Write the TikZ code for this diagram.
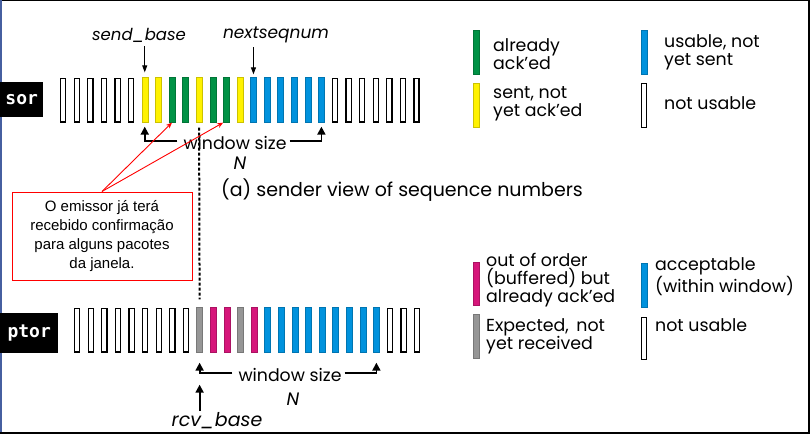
\documentclass[tikz,border=0pt]{standalone}
\usepackage{fontspec}
\setmainfont{Poppins}
\newfontfamily\monob{DejaVu Sans Mono}[BoldFont={* Bold}]
\newfontfamily\notefont{Liberation Sans}
\usetikzlibrary{arrows.meta}
\definecolor{cgreen}{RGB}{0,146,69}
\definecolor{cyellow}{RGB}{255,242,0}
\definecolor{cblue}{RGB}{0,146,221}
\definecolor{cmag}{RGB}{214,22,122}
\definecolor{cgray}{RGB}{150,150,150}
\definecolor{cframe}{RGB}{70,95,160}
\tikzset{
  barbase/.style={rectangle,inner sep=0pt,minimum width=6pt,minimum height=45pt},
  barw/.style={barbase,draw=black,line width=1.3pt,fill=white,minimum width=5.2pt,minimum height=43.7pt},
  bary/.style={barbase,fill=cyellow,draw=cyellow!80!black,line width=0.3pt},
  barg/.style={barbase,fill=cgreen,draw=cgreen!80!black,line width=0.3pt},
  barb/.style={barbase,fill=cblue,draw=cblue!80!black,line width=0.3pt},
  barm/.style={barbase,fill=cmag,draw=cmag!80!black,line width=0.3pt},
  bark/.style={barbase,fill=cgray,draw=cgray!80!black,line width=0.3pt},
  txt/.style={inner sep=0pt,font=\fontsize{17.3}{18}\selectfont},
  legtxt/.style={inner sep=0pt,anchor=west,align=left,font=\fontsize{17.4}{18}\selectfont},
  ital/.style={inner sep=0pt,font=\fontsize{17}{18}\selectfont\itshape},
  ptr/.style={line width=0.9pt,-{Triangle[length=7pt,width=5pt]}},
  brk/.style={line width=1.8pt,-{Triangle[length=8pt,width=8pt]}},
  redarr/.style={red,line width=0.9pt,-{Stealth[length=6pt,width=5pt]}},
  lblbox/.style={fill=black,text=white,inner sep=0pt,anchor=north west,font=\monob\bfseries\fontsize{18}{20}\selectfont},
  note/.style={draw=red,line width=1pt,fill=white,inner sep=0pt,minimum width=180pt,minimum height=88pt,align=center,font=\notefont\fontsize{15}{19}\selectfont},
}
\begin{document}
\begin{tikzpicture}[x=1pt,y=-1pt]
\useasboundingbox (0,0) rectangle (810,434);
\fill[white] (0,0) rectangle (810,434);
% frame
\draw[black,line width=1pt] (0,0.5) -- (810,0.5);
\draw[cframe,line width=2pt] (1,0) -- (1,434);
\draw[black,line width=2pt] (809,0) -- (809,434);
\draw[black,line width=2pt] (0,433) -- (810,433);

% side labels
\node[lblbox,minimum width=43pt,minimum height=35pt] (slbl) at (0,82) {sor};
\node[lblbox,minimum width=58pt,minimum height=40pt] (rlbl) at (0,313) {ptor\hspace{11pt}};

% sender bars
\foreach \c [count=\i from 0] in {w,w,w,w,w,w,y,y,g,g,y,g,g,y,b,b,b,b,b,b,w,w,w,w,w,w,w}
  \node[bar\c] (s\i) at ({63.2+13.59*\i},100) {};
% receiver bars
\foreach \c [count=\i from 0] in {w,w,w,w,w,w,w,w,w,k,m,m,k,m,b,b,b,b,b,b,b,b,b,w,w,w}
  \node[bar\c] (r\i) at ({77.2+13.6*\i},330) {};

% sender pointers
\node[ital,font=\fontsize{16.5}{18}\selectfont\itshape] (sb) at (139,35) {send\_base};
\node[ital] (ns) at (276,35) {nextseqnum};
\draw[ptr] (sb.south -| s6.center) ++(0,4) -- ([yshift=5pt]s6.north);
\draw[ptr] (ns.south -| s14.center) ++(0,4) -- ([yshift=3pt]s14.north);

% sender window
\node[txt] (ws) at (235,143) {window size};
\node[ital,font=\fontsize{18}{18}\selectfont\itshape] (wsn) at (240,163) {N};
\draw[brk] ([xshift=-6pt,yshift=2pt]ws.west) -- ([yshift=2pt]s6.center |- ws.west) -- ([yshift=-4pt]s6.south);
\draw[brk] ([xshift=3pt,yshift=2pt]ws.east) -- ([yshift=2pt]s19.center |- ws.east) -- ([yshift=-4pt]s19.south);

\node[inner sep=0pt,font=\fontsize{19}{20}\selectfont] (cap) at (402,190) {(a) sender view of sequence numbers};

% dashed link
\draw[line width=2pt,dash pattern=on 3pt off 2pt] ([yshift=-5pt]s10.south) -- ([yshift=8pt]r9.north);

% note
\node[note] (nb) at (102,236) {O emissor já terá\\recebido confirmação\\para alguns pacotes\\da janela.};
\draw[redarr] (nb.north) -- (s8.south);
\draw[redarr] (nb.north) -- (s12.south west);

% receiver window
\node[txt] (wr) at (290,375) {window size};
\node[ital,font=\fontsize{18}{18}\selectfont\itshape] (wrn) at (293,399) {N};
\draw[brk] ([xshift=-6pt,yshift=2pt]wr.west) -- ([yshift=2pt]r9.center |- wr.west) -- ([yshift=-10pt]r9.south);
\draw[brk] ([xshift=3pt,yshift=2pt]wr.east) -- ([yshift=2pt]r22.center |- wr.east) -- ([yshift=-10pt]r22.south);
\node[ital,font=\fontsize{19}{18}\selectfont\itshape] (rb) at (217,421) {rcv\_base};
\draw[brk] ([yshift=2pt]rb.north -| r9.center) -- ([yshift=-32pt]r9.south);

% legend (sender)
\node[barg,minimum height=44pt] (lg) at (476,52) {};
\node[legtxt] (lgt) at (493,54) {already\\ack’ed};
\node[barb,minimum height=44pt] (lb) at (644,52) {};
\node[legtxt] (lbt) at (664,52) {usable, not\\yet sent};
\node[bary,minimum height=44pt] (ly) at (476,105.5) {};
\node[legtxt] (lyt) at (493,104) {sent, not\\yet ack’ed};
\node[barw,minimum height=44pt] (lw) at (644,105.5) {};
\node[legtxt] (lwt) at (664,103) {not usable};

% legend (receiver)
\node[barm,minimum height=43pt] (lm) at (476,283.5) {};
\node[legtxt] (lmt) at (486,280) {out of order\\(buffered) but\\already ack’ed};
\node[barb,minimum height=44pt] (lb2) at (644,285) {};
\node[legtxt] (lb2t) at (655,277) {acceptable\\(within window)};
\node[bark,minimum height=44pt] (lk) at (476,336) {};
\node[legtxt] (lkt) at (486,336) {Expected,\, not\\yet received};
\node[barw,minimum height=42pt] (lw2) at (644,338.5) {};
\node[legtxt] (lw2t) at (655,325) {not usable};
\end{tikzpicture}
\end{document}
